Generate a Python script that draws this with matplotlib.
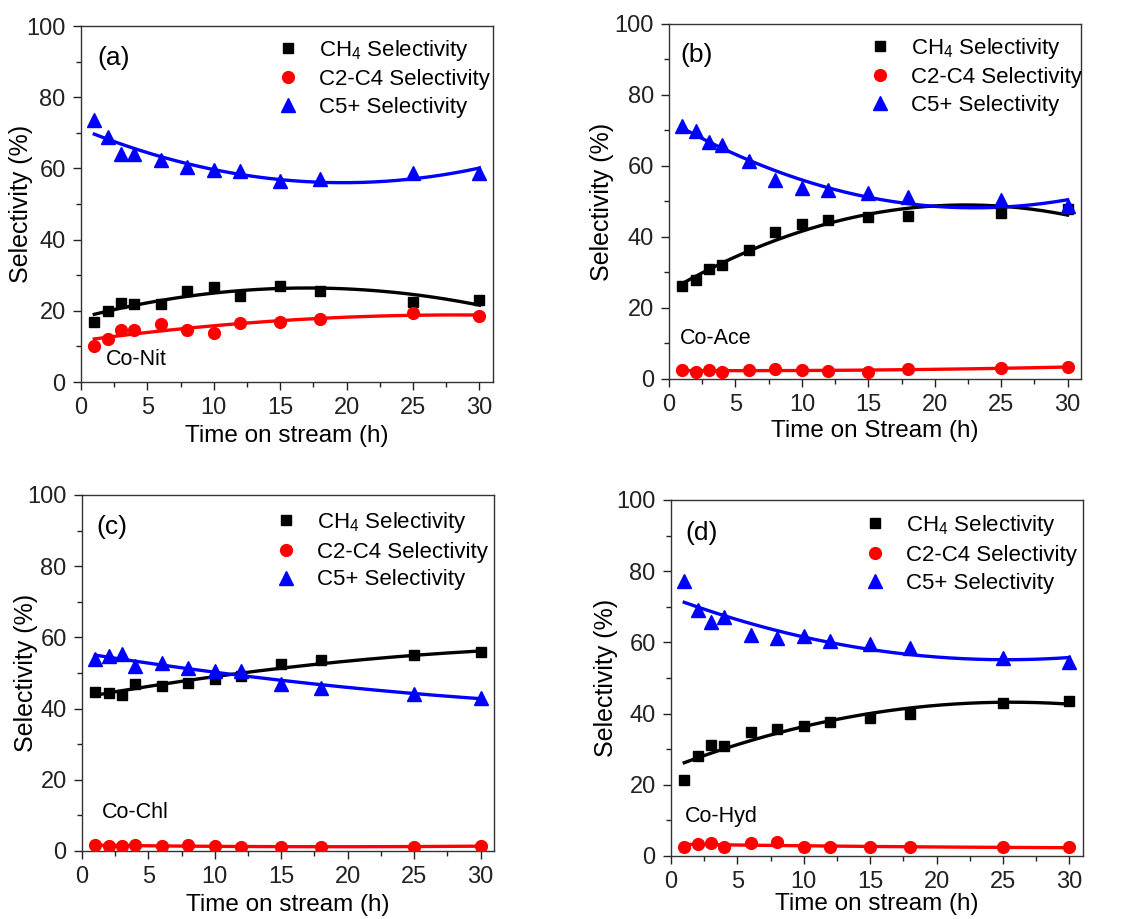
import numpy as np
import matplotlib
matplotlib.use("Agg")
import matplotlib.pyplot as plt

plt.rcParams['font.family'] = ['Liberation Sans', 'DejaVu Sans']
plt.rcParams['mathtext.fontset'] = 'custom'
plt.rcParams['mathtext.rm'] = 'Liberation Sans'
plt.rcParams['mathtext.it'] = 'Liberation Sans'

time_h = [1, 2, 3, 4, 6, 8, 10, 12, 15, 18, 25, 30]

# panel (a) Co-Nit
ch4_a = [16.9, 19.9, 22.2, 22.0, 22.0, 25.5, 26.7, 24.3, 27.1, 25.5, 22.5, 23.1]
c24_a = [10.1, 12.2, 14.5, 14.7, 16.2, 14.7, 13.9, 16.7, 16.8, 17.8, 19.4, 18.6]
c5_a = [73.5, 68.8, 64.0, 64.0, 62.5, 60.4, 59.6, 59.2, 56.6, 57.1, 58.7, 58.7]

# panel (b) Co-Ace
ch4_b = [26.1, 28.0, 31.0, 32.0, 36.2, 41.4, 43.6, 44.8, 45.5, 46.0, 46.7, 48.0]
c24_b = [2.6, 1.9, 2.6, 1.9, 2.6, 2.8, 2.6, 2.2, 2.1, 2.8, 3.0, 3.4]
c5_b = [71.3, 69.9, 66.7, 65.9, 61.3, 56.1, 53.8, 53.1, 52.5, 51.2, 50.5, 48.6]

# panel (c) Co-Chl
ch4_c = [44.7, 44.5, 43.7, 46.9, 46.4, 47.3, 48.2, 49.1, 52.4, 53.6, 55.0, 55.8]
c24_c = [1.7, 1.4, 1.5, 1.6, 1.3, 1.6, 1.5, 1.0, 1.2, 1.2, 1.2, 1.4]
c5_c = [53.9, 54.8, 55.2, 51.9, 52.7, 51.5, 50.6, 50.5, 47.0, 45.8, 44.2, 43.1]

# panel (d) Co-Hyd
ch4_d = [21.2, 28.1, 31.2, 31.0, 34.9, 35.6, 36.6, 37.7, 38.7, 39.8, 42.9, 43.6]
c24_d = [2.6, 3.4, 3.7, 2.4, 3.7, 3.9, 2.4, 2.4, 2.4, 2.6, 2.4, 2.4]
c5_d = [77.1, 69.1, 65.8, 67.2, 62.1, 61.1, 61.8, 60.5, 59.5, 58.5, 55.5, 54.6]

panels = [
    ("(a)", "Co-Nit", "Time on stream (h)", ch4_a, c24_a, c5_a),
    ("(b)", "Co-Ace", "Time on Stream (h)", ch4_b, c24_b, c5_b),
    ("(c)", "Co-Chl", "Time on stream (h)", ch4_c, c24_c, c5_c),
    ("(d)", "Co-Hyd", "Time on stream (h)", ch4_d, c24_d, c5_d),
]

positions = [
    [0.0722, 0.5843, 0.367, 0.3874],
    [0.5963, 0.5876, 0.367, 0.3863],
    [0.0731, 0.0740, 0.367, 0.3874],
    [0.5980, 0.0686, 0.367, 0.3874],
]
label_xy = [(0.04, 0.91), (0.027, 0.913), (0.036, 0.91), (0.036, 0.907)]
name_xy = [(0.06, 0.062), (0.027, 0.113), (0.048, 0.107), (0.034, 0.112)]
leg_anchor = [(0.443, 1.005), (0.453, 1.005), (0.436, 0.995), (0.436, 1.0)]
ylab_x = [-0.117, -0.133, -0.107, -0.129]
xlab_pad = [4, 3, 4, 0]

fig = plt.figure(figsize=(11.22, 9.19), dpi=100)
x = np.array(time_h)
xs = np.linspace(1, 30, 200)

for i, (lab, name, xlab, ch4, c24, c5) in enumerate(panels):
    ax = fig.add_axes(positions[i])
    series = [
        (ch4, 'black', 's', 7.5, "CH$_4$ Selectivity"),
        (c24, '#ff0000', 'o', 8.5, "C2-C4 Selectivity"),
        (c5, '#0000ff', '^', 9.5, "C5+ Selectivity"),
    ]
    handles = []
    for y, col, mk, ms, name_s in series:
        # second order polynomial fit, as in the original
        coef = np.polyfit(x, y, 2)
        ax.plot(xs, np.polyval(coef, xs), color=col, lw=2.4, zorder=2)
        h, = ax.plot(x, y, linestyle='none', marker=mk, ms=ms, color=col,
                     label=name_s, zorder=3)
        handles.append(h)

    ax.set_xlim(0, 31)
    ax.set_ylim(0, 100)
    ax.set_xticks([0, 5, 10, 15, 20, 25, 30])
    ax.set_xticks(np.arange(2.5, 31, 5), minor=True)
    ax.set_yticks([0, 20, 40, 60, 80, 100])
    ax.set_yticks([10, 30, 50, 70, 90], minor=True)
    ax.tick_params(which='both', direction='out', top=False, right=False,
                   labelsize=17, colors='#222222')
    ax.tick_params(which='major', length=6, width=1, pad=5)
    ax.tick_params(which='minor', length=3.5, width=1)
    for sp in ax.spines.values():
        sp.set_color('#333333')
        sp.set_linewidth(1)
    ax.set_xlabel(xlab, fontsize=17.5, labelpad=xlab_pad[i])
    ax.set_ylabel("Selectivity (%)", fontsize=18)
    ax.yaxis.set_label_coords(ylab_x[i], 0.5)
    ax.text(label_xy[i][0], label_xy[i][1], lab, transform=ax.transAxes,
            fontsize=19, va='center', ha='left')
    ax.text(name_xy[i][0], name_xy[i][1], name, transform=ax.transAxes,
            fontsize=15.5, va='center', ha='left')
    ax.legend(handles=handles, loc='upper left', bbox_to_anchor=leg_anchor[i],
              frameon=False, fontsize=16, handlelength=1.0, handletextpad=0.9,
              labelspacing=0.3, borderaxespad=0.2)

fig.savefig("out.png", dpi=100)
